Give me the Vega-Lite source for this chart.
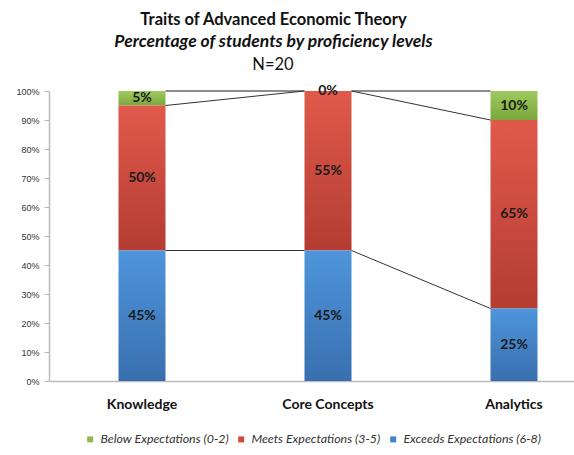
{
  "$schema": "https://vega.github.io/schema/vega-lite/v6.json",
  "padding": {"left": 15, "top": 11, "right": 0, "bottom": 0},
  "background": "white",
  "title": {
    "text": "Traits of Advanced Economic Theory",
    "subtitle": "Percentage of students by proficiency levels",
    "anchor": "middle",
    "frame": "bounds",
    "dx": -22,
    "font": "Lato",
    "fontSize": 16.5,
    "fontWeight": "bold",
    "color": "#111",
    "subtitleFont": "Lato",
    "subtitleFontSize": 17.5,
    "subtitleFontWeight": "bold",
    "subtitleFontStyle": "italic",
    "subtitleColor": "#111",
    "subtitlePadding": 5,
    "offset": 6
  },
  "datasets": {
    "bars": [
      {"trait": "Knowledge", "level": "Below Expectations (0-2)", "rank": 3, "share": 0.05},
      {"trait": "Knowledge", "level": "Meets Expectations (3-5)", "rank": 2, "share": 0.50},
      {"trait": "Knowledge", "level": "Exceeds Expectations (6-8)", "rank": 1, "share": 0.45},
      {"trait": "Core Concepts", "level": "Below Expectations (0-2)", "rank": 3, "share": 0.00},
      {"trait": "Core Concepts", "level": "Meets Expectations (3-5)", "rank": 2, "share": 0.55},
      {"trait": "Core Concepts", "level": "Exceeds Expectations (6-8)", "rank": 1, "share": 0.45},
      {"trait": "Analytics", "level": "Below Expectations (0-2)", "rank": 3, "share": 0.10},
      {"trait": "Analytics", "level": "Meets Expectations (3-5)", "rank": 2, "share": 0.65},
      {"trait": "Analytics", "level": "Exceeds Expectations (6-8)", "rank": 1, "share": 0.25}
    ],
    "links": [
      {"from": "Knowledge", "to": "Core Concepts", "y1": 1.0, "y2": 1.0, "kind": "top"},
      {"from": "Knowledge", "to": "Core Concepts", "y1": 0.95, "y2": 1.0, "kind": "mid"},
      {"from": "Knowledge", "to": "Core Concepts", "y1": 0.45, "y2": 0.45, "kind": "mid"},
      {"from": "Core Concepts", "to": "Analytics", "y1": 1.0, "y2": 1.0, "kind": "top"},
      {"from": "Core Concepts", "to": "Analytics", "y1": 1.0, "y2": 0.90, "kind": "mid"},
      {"from": "Core Concepts", "to": "Analytics", "y1": 0.45, "y2": 0.25, "kind": "mid"}
    ]
  },
  "vconcat": [
    {
      "title": {"text": "N=20", "font": "Lato", "fontSize": 16.5, "fontWeight": "normal", "color": "#111", "anchor": "middle", "frame": "group", "dx": -39, "offset": 11},
      "width": 526,
      "height": 290,
      "layer": [
        {
          "data": {"name": "bars"},
          "mark": {"type": "bar"},
          "encoding": {
            "x": {
              "field": "trait", "type": "nominal",
              "scale": {"domain": ["Knowledge", "Core Concepts", "Analytics"], "paddingInner": 0.7473, "paddingOuter": 0.2876, "align": 0.6495},
              "axis": {"title": null, "labelAngle": 0, "ticks": false, "domainColor": "#bbbbbb", "domainWidth": 1.5, "labelFont": "Lato", "labelFontSize": 14, "labelFontWeight": "bold", "labelColor": "#111", "labelPadding": 16}
            },
            "y": {
              "field": "share", "type": "quantitative", "stack": "zero",
              "scale": {"domain": [0, 1], "nice": false},
              "axis": {"title": null, "format": ".0%", "values": [0, 0.1, 0.2, 0.3, 0.4, 0.5, 0.6, 0.7, 0.8, 0.9, 1], "labelOverlap": false, "grid": false, "domainColor": "#bbbbbb", "domainWidth": 1.5, "tickColor": "#bbbbbb", "tickSize": 5, "labelFont": "Liberation Sans", "labelFontSize": 9, "labelColor": "#333", "labelPadding": 5, "minExtent": 33, "maxExtent": 33}
            },
            "color": {
              "condition": [
                {"test": "datum.level === 'Below Expectations (0-2)'", "value": {"gradient": "linear", "x1": 0, "y1": 0, "x2": 0, "y2": 1, "stops": [{"offset": 0, "color": "#9fca5e"}, {"offset": 1, "color": "#7ba63c"}]}},
                {"test": "datum.level === 'Meets Expectations (3-5)'", "value": {"gradient": "linear", "x1": 0, "y1": 0, "x2": 0, "y2": 1, "stops": [{"offset": 0, "color": "#e05a4b"}, {"offset": 1, "color": "#b43c32"}]}},
                {"test": "datum.level === 'Exceeds Expectations (6-8)'", "value": {"gradient": "linear", "x1": 0, "y1": 0, "x2": 0, "y2": 1, "stops": [{"offset": 0, "color": "#4e95dc"}, {"offset": 1, "color": "#396fae"}]}}
              ],
              "field": "level", "type": "nominal",
              "sort": ["Below Expectations (0-2)", "Meets Expectations (3-5)", "Exceeds Expectations (6-8)"],
              "scale": {
                "domain": ["Below Expectations (0-2)", "Meets Expectations (3-5)", "Exceeds Expectations (6-8)"],
                "range": ["#8dba4c", "#d2483b", "#4584cb"]
              },
              "legend": {"title": null, "orient": "bottom", "direction": "horizontal", "symbolType": "square", "symbolSize": 36, "symbolStrokeWidth": 0, "labelFont": "Lato", "labelFontSize": 12.4, "labelFontStyle": "italic", "labelColor": "#333", "labelOffset": 4, "columnPadding": 6, "offset": 22}
            },
            "order": {"field": "rank", "type": "quantitative"}
          }
        },
        {
          "data": {"name": "bars"},
          "mark": {"type": "text", "font": "Lato", "fontSize": 14, "fontWeight": "bold", "color": "#1a1a1a"},
          "encoding": {
            "x": {"field": "trait", "type": "nominal"},
            "y": {
              "field": "share", "type": "quantitative", "stack": "zero", "bandPosition": 0.5,
              "axis": {"title": null, "format": ".0%", "values": [0, 0.1, 0.2, 0.3, 0.4, 0.5, 0.6, 0.7, 0.8, 0.9, 1], "labelOverlap": false, "grid": false, "domainColor": "#bbbbbb", "domainWidth": 1.5, "tickColor": "#bbbbbb", "tickSize": 5, "labelFont": "Liberation Sans", "labelFontSize": 9, "labelColor": "#333", "labelPadding": 5, "minExtent": 33, "maxExtent": 33}
            },
            "detail": {"field": "level"},
            "order": {"field": "rank", "type": "quantitative"},
            "text": {"field": "share", "type": "quantitative", "format": ".0%"}
          }
        },
        {
          "data": {"name": "links"},
          "mark": {"type": "rule"},
          "encoding": {
            "x": {"field": "from", "type": "nominal", "bandPosition": 1},
            "x2": {"field": "to", "bandPosition": 0},
            "y": {
              "field": "y1", "type": "quantitative",
              "axis": {"title": null, "format": ".0%", "values": [0, 0.1, 0.2, 0.3, 0.4, 0.5, 0.6, 0.7, 0.8, 0.9, 1], "labelOverlap": false, "grid": false, "domainColor": "#bbbbbb", "domainWidth": 1.5, "tickColor": "#bbbbbb", "tickSize": 5, "labelFont": "Liberation Sans", "labelFontSize": 9, "labelColor": "#333", "labelPadding": 5, "minExtent": 33, "maxExtent": 33}
            },
            "y2": {"field": "y2"},
            "color": {"field": "kind", "type": "nominal", "scale": {"domain": ["top", "mid"], "range": ["#8c8c8c", "#333333"]}, "legend": null},
            "strokeWidth": {"field": "kind", "type": "nominal", "scale": {"domain": ["top", "mid"], "range": [2, 1]}, "legend": null}
          }
        }
      ],
      "resolve": {"scale": {"color": "independent"}}
    }
  ],
  "config": {"view": {"stroke": null}, "legend": {"layout": {"anchor": "middle", "center": true}}}
}
